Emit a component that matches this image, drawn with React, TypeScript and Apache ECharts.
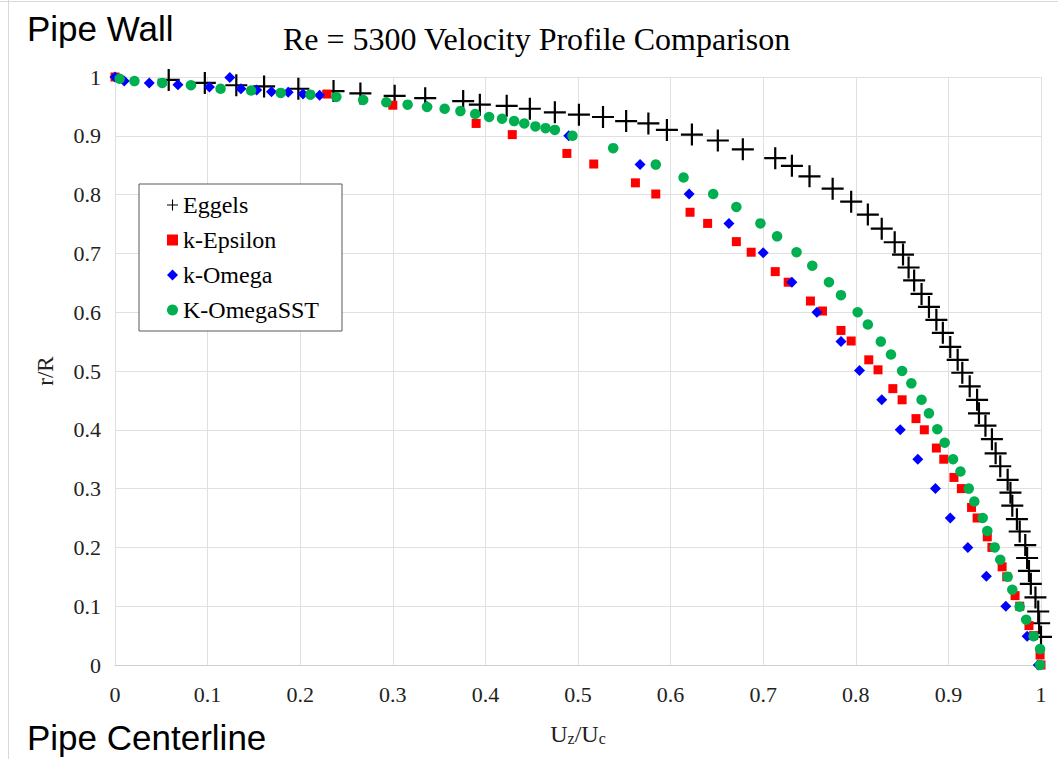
import React, { useEffect, useRef } from "react";
import * as echarts from "echarts";

// [Uz/Uc, r/R]
const eggels: [number, number][] = [
  [0.058, 0.995], [0.097, 0.99], [0.131, 0.986], [0.161, 0.984], [0.198, 0.98], [0.236, 0.976],
  [0.265, 0.972], [0.302, 0.968], [0.335, 0.964], [0.376, 0.959], [0.394, 0.953], [0.423, 0.951],
  [0.448, 0.946], [0.475, 0.94], [0.501, 0.936], [0.527, 0.932], [0.552, 0.925], [0.576, 0.921],
  [0.596, 0.91], [0.623, 0.902], [0.651, 0.892], [0.678, 0.877], [0.713, 0.862], [0.731, 0.849],
  [0.75, 0.831], [0.775, 0.81], [0.795, 0.788], [0.813, 0.766], [0.828, 0.742], [0.842, 0.719],
  [0.851, 0.698], [0.857, 0.676], [0.863, 0.654], [0.871, 0.631], [0.879, 0.609], [0.887, 0.587],
  [0.894, 0.565], [0.902, 0.541], [0.91, 0.519], [0.915, 0.497], [0.923, 0.474], [0.931, 0.451],
  [0.933, 0.428], [0.94, 0.407], [0.947, 0.384], [0.951, 0.36], [0.956, 0.338], [0.964, 0.315],
  [0.967, 0.293], [0.969, 0.271], [0.974, 0.248], [0.977, 0.227], [0.983, 0.204], [0.985, 0.182],
  [0.987, 0.16], [0.989, 0.138], [0.994, 0.115], [0.997, 0.091], [0.998, 0.071], [1.0, 0.048],
];

const kEpsilon: [number, number][] = [
  [0.0, 1.0], [0.229, 0.971], [0.3, 0.952], [0.39, 0.921], [0.429, 0.902], [0.488, 0.87],
  [0.517, 0.852], [0.562, 0.82], [0.584, 0.801], [0.621, 0.77], [0.64, 0.751], [0.671, 0.72],
  [0.687, 0.702], [0.713, 0.669], [0.727, 0.651], [0.751, 0.619], [0.764, 0.602], [0.784, 0.569],
  [0.795, 0.551], [0.814, 0.519], [0.824, 0.502], [0.84, 0.47], [0.85, 0.451], [0.865, 0.419],
  [0.874, 0.4], [0.887, 0.369], [0.895, 0.35], [0.906, 0.319], [0.914, 0.3], [0.925, 0.268],
  [0.931, 0.25], [0.942, 0.218], [0.947, 0.2], [0.958, 0.167], [0.963, 0.15], [0.972, 0.118],
  [0.977, 0.1], [0.987, 0.067], [0.992, 0.05], [0.999, 0.017], [1.0, 0.0],
];

const kOmega: [number, number][] = [
  [0.0, 1.0], [0.01, 0.993], [0.037, 0.99], [0.068, 0.987], [0.102, 0.983], [0.124, 0.999],
  [0.136, 0.98], [0.153, 0.978], [0.169, 0.975], [0.187, 0.974], [0.203, 0.971], [0.221, 0.969],
  [0.337, 0.95], [0.49, 0.9], [0.567, 0.851], [0.62, 0.801], [0.663, 0.751], [0.7, 0.701],
  [0.731, 0.651], [0.758, 0.6], [0.784, 0.55], [0.804, 0.501], [0.828, 0.451], [0.848, 0.4],
  [0.867, 0.35], [0.886, 0.3], [0.902, 0.25], [0.921, 0.2], [0.941, 0.151], [0.962, 0.1],
  [0.985, 0.049], [0.997, 0.0],
];

const kOmegaSST: [number, number][] = [
  [0.005, 0.997], [0.021, 0.993], [0.051, 0.99], [0.082, 0.986], [0.114, 0.98], [0.147, 0.977],
  [0.179, 0.973], [0.211, 0.97], [0.239, 0.966], [0.268, 0.961], [0.293, 0.957], [0.316, 0.953],
  [0.337, 0.949], [0.356, 0.946], [0.373, 0.942], [0.389, 0.937], [0.404, 0.932], [0.418, 0.929],
  [0.431, 0.925], [0.442, 0.921], [0.454, 0.916], [0.465, 0.913], [0.475, 0.91], [0.494, 0.9],
  [0.538, 0.879], [0.584, 0.851], [0.614, 0.829], [0.646, 0.801], [0.671, 0.779], [0.697, 0.751],
  [0.715, 0.729], [0.736, 0.702], [0.753, 0.679], [0.771, 0.651], [0.784, 0.629], [0.802, 0.6],
  [0.813, 0.579], [0.827, 0.55], [0.838, 0.528], [0.85, 0.5], [0.86, 0.479], [0.871, 0.451],
  [0.879, 0.428], [0.888, 0.401], [0.896, 0.378], [0.905, 0.35], [0.913, 0.329], [0.922, 0.3],
  [0.928, 0.278], [0.937, 0.25], [0.942, 0.228], [0.95, 0.2], [0.956, 0.179], [0.964, 0.15],
  [0.969, 0.128], [0.977, 0.099], [0.984, 0.077], [0.992, 0.049], [0.999, 0.027], [0.999, 0.0],
];

const seriesNames = ["Eggels", "k-Epsilon", "k-Omega", "K-OmegaSST"];
const titleText = "Re = 5300 Velocity Profile Comparison";

const PLUS = "path://M9,0H11V9H20V11H11V20H9V11H0V9H9Z";
const SERIF = "'Liberation Serif', 'Times New Roman', serif";
const SANS = "'Liberation Sans', Arial, sans-serif";

export default function App() {
  const ref = useRef<HTMLDivElement>(null);
  useEffect(() => {
    if (!ref.current) return;
    const chart = echarts.init(ref.current, undefined, { renderer: "svg" });
    chart.setOption({
      animation: false,
      backgroundColor: "#ffffff",
      title: {
        text: titleText,
        left: 283,
        top: 23,
        padding: 0,
        textStyle: { fontFamily: SERIF, fontSize: 32, fontWeight: "normal", color: "#000" },
      },
      graphic: [
        { type: "line", shape: { x1: 0, y1: 1.5, x2: 1058, y2: 1.5 }, style: { stroke: "#d9d9d9", lineWidth: 1 } },
        { type: "line", shape: { x1: 8.5, y1: 0, x2: 8.5, y2: 759 }, style: { stroke: "#d9d9d9", lineWidth: 1 } },
        {
          type: "text",
          left: 27,
          top: 11,
          style: { text: "Pipe Wall", fontFamily: SANS, fontSize: 35, fill: "#000" },
        },
        {
          type: "text",
          left: 27,
          top: 720,
          style: { text: "Pipe Centerline", fontFamily: SANS, fontSize: 35, fill: "#000" },
        },
      ],
      legend: {
        orient: "vertical",
        left: 139,
        top: 184,
        padding: [9, 23, 9, 28],
        itemGap: 11,
        itemWidth: 11,
        itemHeight: 11,
        borderColor: "#595959",
        borderWidth: 1,
        backgroundColor: "#ffffff",
        textStyle: { fontFamily: SERIF, fontSize: 24, color: "#000" },
        data: seriesNames,
      },
      grid: { left: 115, right: 17, top: 77, bottom: 94, containLabel: false },
      xAxis: {
        type: "value",
        min: 0,
        max: 1,
        interval: 0.1,
        name: "{u|U}{s|z}{u|/U}{s|c}",
        nameLocation: "middle",
        nameGap: 56,
        nameTextStyle: {
          rich: {
            u: { fontFamily: SERIF, fontSize: 24, color: "#222" },
            s: { fontFamily: SERIF, fontSize: 16, color: "#222", verticalAlign: "bottom", padding: [9, 0, 0, 0] },
          },
        },
        axisLine: { show: true, lineStyle: { color: "#cfcfcf", width: 1 } },
        axisTick: { show: false },
        axisLabel: { fontFamily: SERIF, fontSize: 22, color: "#222", margin: 18 },
        splitLine: { show: true, lineStyle: { color: "#e0e0e0", width: 1 } },
      },
      yAxis: {
        type: "value",
        min: 0,
        max: 1,
        interval: 0.1,
        name: "r/R",
        nameLocation: "middle",
        nameGap: 58,
        nameTextStyle: { fontFamily: SERIF, fontSize: 23, color: "#222" },
        axisLine: { show: true, lineStyle: { color: "#e0e0e0", width: 1 } },
        axisTick: { show: false },
        axisLabel: { fontFamily: SERIF, fontSize: 22, color: "#222", margin: 14 },
        splitLine: { show: true, lineStyle: { color: "#e0e0e0", width: 1 } },
      },
      series: [
        {
          name: seriesNames[0],
          type: "scatter",
          data: eggels,
          symbol: PLUS,
          symbolSize: 22,
          itemStyle: { color: "#000000", opacity: 1 },
        },
        {
          name: seriesNames[1],
          type: "scatter",
          data: kEpsilon,
          symbol: "rect",
          symbolSize: 9,
          itemStyle: { color: "#ff0000", opacity: 1 },
        },
        {
          name: seriesNames[2],
          type: "scatter",
          data: kOmega,
          symbol: "diamond",
          symbolSize: 11,
          itemStyle: { color: "#0000ff", opacity: 1 },
        },
        {
          name: seriesNames[3],
          type: "scatter",
          data: kOmegaSST,
          symbol: "circle",
          symbolSize: 10.5,
          itemStyle: { color: "#00b050", opacity: 1 },
        },
      ],
    });
    return () => chart.dispose();
  }, []);
  return (
    <div
      ref={ref}
      style={{ position: "absolute", left: 0, top: 0, width: 1058, height: 759 }}
    />
  );
}
